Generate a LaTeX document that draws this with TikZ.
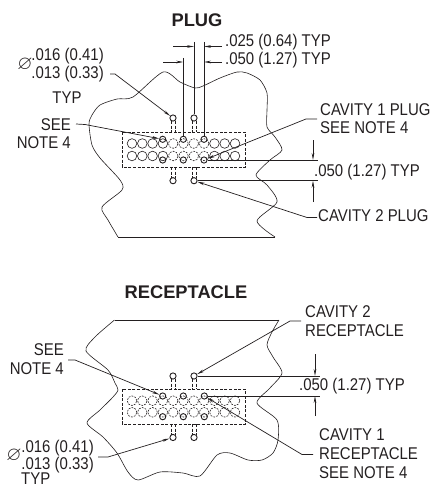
\documentclass[tikz,border=0pt]{standalone}
\usepackage{amssymb}
\usepackage{fontspec}
\setmainfont[FakeStretch=0.88]{Liberation Sans}
\newfontfamily\titlefont[BoldFont={Liberation Sans Bold}]{Liberation Sans}
\usetikzlibrary{arrows.meta, positioning}
\definecolor{ink}{HTML}{231F20}

\tikzset{
lbl/.style={anchor=west,inner sep=0pt},
lblr/.style={anchor=east,inner sep=0pt},
title/.style={inner sep=0pt,font=\fontsize{18.3}{19}\titlefont\bfseries},
hole/.style={circle,draw,inner sep=0pt,minimum size=6.2pt,line width=0.9pt},
pad/.style={circle,draw,inner sep=0pt,minimum size=9.6pt,line width=0.6pt},
padd/.style={pad,dash pattern=on 1.8pt off 1.2pt},
stub/.style={dash pattern=on 3pt off 1.6pt,line width=0.7pt},
dimline/.style={line width=0.7pt},
lead/.style={line width=0.7pt},
blob/.style={line width=0.6pt},
dia/.style={inner sep=0pt,scale=1.15},
}

\begin{document}
\begin{tikzpicture}[
>={Stealth[length=7pt,width=2.6pt]},
x=1pt,y=-1pt,
every node/.style={text=ink,font=\fontsize{17}{17}\selectfont},
draw=ink,
]
\useasboundingbox (0,0) rectangle (432,487);

% plug
\node[title] (plugtitle) at (197,20) {PLUG};
\draw[blob] plot[smooth,tension=0.45] coordinates {(118,237) (108,220) (102,207) (122,190) (120,180) (100,158) (92,145) (89,124) (92,115) (100,105) (117,99) (133,97) (163,72) (180,82) (195,88) (203,86) (220,78) (237,72) (247,73) (260,80) (267,93) (267,110) (267,127) (275,137) (282,150) (270,160) (256,175) (267,185) (277,202) (257,221) (275,237)};
\draw[blob,line width=0.8pt] (118,237) -- (275,237);

\draw[stub] (122,132) rectangle (245.5,167);
\foreach \i in {0,...,10}{
  \pgfmathsetmacro{\px}{132+10.3*\i}
  \ifnum\i>3\ifnum\i<8
    \node[padd] at (\px,143.5) {};
    \node[padd] at (\px,156) {};
  \else
    \node[pad] at (\px,143.5) {};
    \node[pad] at (\px,156) {};
  \fi\else
    \node[pad] at (\px,143.5) {};
    \node[pad] at (\px,156) {};
  \fi
}
\node[hole] (pa) at (173,118) {};
\node[hole] (pb) at (194,118) {};
\node[hole] (pc) at (162.7,139.3) {};
\node[hole] (pd) at (183.3,139.3) {};
\node[hole] (pe) at (204,139.3) {};
\node[hole] (pf) at (162.7,160) {};
\node[hole] (pg) at (183.3,160) {};
\node[hole] (ph) at (204,160) {};
\node[hole] (pi) at (173,180.7) {};
\node[hole] (pj) at (194,180.7) {};
\foreach \sx in {171,175,192,196}{
  \draw[stub] (\sx,121) -- (\sx,132);
  \draw[stub] (\sx,167) -- (\sx,178);
}

\coordinate (dtop) at (194,42);
\coordinate (dmid) at (183.3,58);
\coordinate (dtopr) at (204,42);
\draw[dimline] (dtop) -- (pb);
\draw[dimline] (dmid) -- (pd);
\draw[dimline] (dtopr) -- (pe);
\draw[dimline,->] (173,46.5) -- (194,46.5);
\draw[dimline,->] (222,46.5) -- (204,46.5);
\draw[dimline,->] (163,62) -- (183.3,62);
\draw[dimline,->] (222,62) -- (204,62);

\node[lbl] (pdima) at (225,42) {.025 (0.64) TYP};
\node[lbl] (pdimb) at (225,60) {.050 (1.27) TYP};

\node[dia] (pdia) at (25,65) {$\varnothing$};
\node[lblr] (psizea) at (104,56) {.016 (0.41)};
\node[lblr] (psizeb) at (104,74) {.013 (0.33)};
\node (ptyp) at (67,98) {TYP};
\coordinate (pla) at (110,74);
\coordinate (plb) at (115,74);
\draw[lead,->] (pla) -- (plb) -- (pa);

\node[lblr] (pseea) at (71,125) {SEE};
\node[lblr] (pseeb) at (71,143) {NOTE 4};
\coordinate (plc) at (76,124);
\coordinate (pld) at (85,124.5);
\draw[lead,->] (plc) -- (pld) -- (pc);

\node[lbl] (pcava) at (320,110) {CAVITY 1 PLUG};
\node[lbl] (pcavb) at (320,128) {SEE NOTE 4};
\coordinate (ple) at (317,119);
\coordinate (plf) at (306,119);
\draw[lead,->] (ple) -- (plf) -- (ph);

\coordinate (pxa) at (318,160);
\coordinate (pxb) at (318,180.7);
\draw[dimline] (ph) -- (pxa);
\draw[dimline] (pj) -- (pxb);
\draw[dimline,->] (313,140) -- (313,160);
\draw[dimline,->] (313,202) -- (313,180.7);
\node[lbl] (pgap) at (314,172) {.050 (1.27) TYP};

\node[lbl] (pcavc) at (318,216) {CAVITY 2 PLUG};
\coordinate (plg) at (317,217.5);
\coordinate (plh) at (307,217.5);
\draw[lead,->] (plg) -- (plh) -- (pj);

% receptacle
\node[title] (rectitle) at (186,292) {RECEPTACLE};
\draw[blob,line width=0.8pt] (114.5,320) -- (279,320);
\draw[blob] plot[smooth,tension=0.45] coordinates {(279,320) (272,332) (267,345) (273,357) (282,373) (270,388) (257,403) (277,420) (278,440) (273,453) (262,460) (248,460) (230,453) (217,455) (200,476) (183,473) (160,472) (138,480) (128,472) (117,453) (103,437) (87,423) (100,410) (113,397) (118,390) (115,383) (108,370) (86,351) (95,337) (114.5,320)};

\draw[stub] (122,389) rectangle (245.5,424);
\foreach \i in {0,...,10}{
  \pgfmathsetmacro{\px}{132+10.3*\i}
  \node[padd] at (\px,400.7) {};
  \node[padd] at (\px,412.3) {};
}
\node[hole] (ra) at (173,376) {};
\node[hole] (rb) at (194,376) {};
\node[hole] (rc) at (162.7,396) {};
\node[hole] (rd) at (183.3,396) {};
\node[hole] (re) at (204.3,396) {};
\node[hole] (rf) at (162.7,416.7) {};
\node[hole] (rg) at (183.3,416.7) {};
\node[hole] (rh) at (204.3,416.7) {};
\node[hole] (ri) at (173,437.5) {};
\node[hole] (rj) at (194,437.5) {};
\foreach \sx in {171,175,192,196}{
  \draw[stub] (\sx,379) -- (\sx,389);
  \draw[stub] (\sx,424) -- (\sx,434.5);
}

\node[lbl] (rcava) at (305,312) {CAVITY 2};
\node[lbl] (rcavb) at (305,331) {RECEPTACLE};
\coordinate (rla) at (301,321);
\coordinate (rlb) at (290,321);
\draw[lead,->] (rla) -- (rlb) -- (rb);

\node[lblr] (rseea) at (64,350) {SEE};
\node[lblr] (rseeb) at (64,369) {NOTE 4};
\coordinate (rlc) at (68,360);
\coordinate (rld) at (75,360);
\draw[lead,->] (rlc) -- (rld) -- (rc);

\coordinate (rxa) at (320,376);
\coordinate (rxb) at (320,396);
\draw[dimline] (rb) -- (rxa);
\draw[dimline] (re) -- (rxb);
\draw[dimline,->] (315,354) -- (315,376);
\draw[dimline,->] (315,416) -- (315,396);
\node[lbl] (rgap) at (299,386) {.050 (1.27) TYP};

\node[lbl] (rcavc) at (319,435) {CAVITY 1};
\node[lbl] (rcavd) at (319,454) {RECEPTACLE};
\node[lbl] (rcave) at (319,473) {SEE NOTE 4};
\coordinate (rle) at (313,454.5);
\coordinate (rlf) at (302,454.5);
\draw[lead,->] (rle) -- (rlf) -- (re);

\node[dia] (rdia) at (14,456) {$\varnothing$};
\node[lblr] (rsizea) at (94,448) {.016 (0.41)};
\node[lblr] (rsizeb) at (94,465) {.013 (0.33)};
\node[lbl] (rtyp) at (21,479) {TYP};
\coordinate (rlg) at (98,457);
\coordinate (rlh) at (108,457);
\draw[lead,->] (rlg) -- (rlh) -- (ri);
\end{tikzpicture}
\end{document}
